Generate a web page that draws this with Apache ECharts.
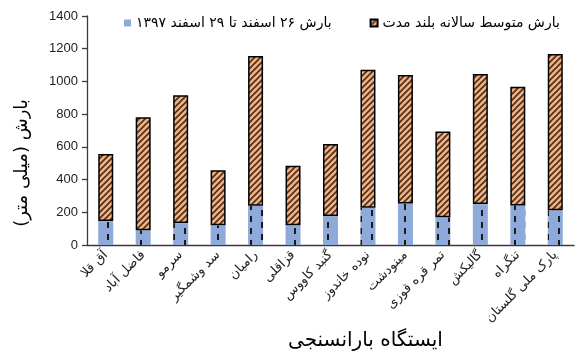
<!DOCTYPE html>
<html>
<head>
<meta charset="utf-8">
<script src="https://cdn.jsdelivr.net/npm/echarts@6/dist/echarts.min.js"></script>
<style>
  html, body { margin: 0; padding: 0; background: #fff; }
  #chart { width: 575px; height: 356px; }
</style>
</head>
<body>
<div id="chart"></div>
<script>
// Rain-gauge stations
const stations = ['آق قلا', 'فاضل آباد', 'سرمو', 'سد وشمگیر', 'رامیان', 'قزاقلی', 'گنبد کاووس',
  'نوده خاندوز', 'مینودشت', 'تمر قره قوزی', 'گالیکش', 'تنگراه', 'پارک ملی گلستان'];
// Rainfall 26–29 Esfand 1397 (mm)
const eventRain = [146, 90, 134, 120, 240, 120, 177, 228, 254, 169, 250, 242, 212];
// Long-term mean annual rainfall (mm), stacked on top
const meanAnnual = [411, 691, 781, 337, 915, 364, 441, 844, 785, 525, 795, 726, 955];
const yTicks = [0, 200, 400, 600, 800, 1000, 1200, 1400];

const seriesNames = ['بارش ۲۶ اسفند تا ۲۹ اسفند ۱۳۹۷', 'بارش متوسط سالانه بلند مدت'];
const xTitle = 'ایستگاه بارانسنجی';
const yTitle = 'بارش (میلی متر)';

// Fill patterns
function hatchPattern() {
  const c = document.createElement('canvas');
  c.width = 6; c.height = 6;
  const g = c.getContext('2d');
  g.fillStyle = '#f4b183';
  g.fillRect(0, 0, 6, 6);
  g.strokeStyle = '#4a2e18';
  g.lineWidth = 1.6;
  g.beginPath();
  g.moveTo(-1, 7); g.lineTo(7, -1);
  g.moveTo(-4, 4); g.lineTo(4, -4);
  g.moveTo(2, 10); g.lineTo(10, 2);
  g.stroke();
  return c;
}
function dashPattern() {
  const c = document.createElement('canvas');
  c.width = 22; c.height = 12;
  const g = c.getContext('2d');
  g.fillStyle = '#8eaadb';
  g.fillRect(0, 0, 22, 12);
  g.fillStyle = '#1a1a1a';
  g.fillRect(8, 0, 2, 6);
  g.fillRect(19, 6, 2, 6);
  return c;
}

const chart = echarts.init(document.getElementById('chart'), null, { renderer: 'canvas' });
const arabicFont = 'DejaVu Sans';
chart.setOption({
  animation: false,
  backgroundColor: '#fff',
  grid: { left: 87, right: 1, top: 16, bottom: 111, containLabel: false },
  legend: {
    data: seriesNames,
    left: 119, top: 11, width: 456,
    itemWidth: 7, itemHeight: 7, itemGap: 38,
    icon: 'rect',
    textStyle: { fontFamily: arabicFont, fontSize: 14, color: '#000' }
  },
  graphic: [
    {
      type: 'text', left: 288, top: 331,
      style: { text: xTitle, fontFamily: arabicFont, fontSize: 20, fill: '#000' }
    },
    {
      type: 'text', x: 22, y: 163, rotation: Math.PI / 2,
      style: { text: yTitle, fontFamily: arabicFont, fontSize: 18, fill: '#000', align: 'center', verticalAlign: 'middle' }
    }
  ],
  xAxis: {
    type: 'category',
    data: stations,
    axisLine: { lineStyle: { color: '#3a3a3a', width: 1.3 } },
    axisTick: { alignWithLabel: false, length: 5, lineStyle: { color: '#3a3a3a', width: 1.3 } },
    axisLabel: { rotate: 45, fontFamily: arabicFont, fontSize: 13, color: '#222', margin: 8, interval: 0 }
  },
  yAxis: {
    type: 'value',
    min: yTicks[0], max: yTicks[yTicks.length - 1], interval: 200,
    axisLine: { show: true, lineStyle: { color: '#3a3a3a', width: 1.3 } },
    axisTick: { show: true, length: 5, lineStyle: { color: '#3a3a3a', width: 1.3 } },
    splitLine: { show: false },
    axisLabel: { fontFamily: 'Liberation Sans', fontSize: 13, color: '#222', margin: 9, formatter: v => String(v) }
  },
  series: [
    {
      name: seriesNames[0],
      type: 'bar',
      stack: 'rain',
      data: eventRain,
      barWidth: 15,
      itemStyle: { color: { image: dashPattern(), repeat: 'repeat' } }
    },
    {
      name: seriesNames[1],
      type: 'bar',
      stack: 'rain',
      data: meanAnnual,
      barWidth: 15,
      itemStyle: {
        color: { image: hatchPattern(), repeat: 'repeat' },
        borderColor: '#000', borderWidth: 1.5
      }
    }
  ]
});
</script>
</body>
</html>
